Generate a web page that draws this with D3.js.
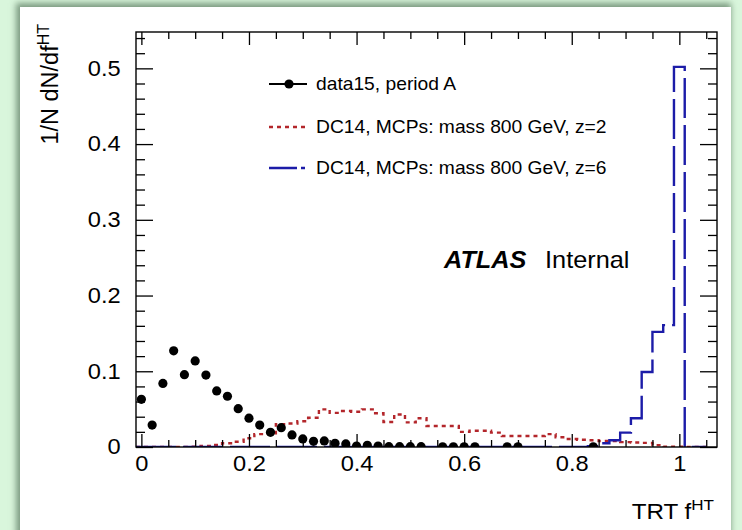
<!DOCTYPE html>
<html lang="en">
<head>
<meta charset="utf-8">
<script src="https://d3js.org/d3.v7.min.js"></script>
<style>
  body { margin: 0; background: #d9f6dc; overflow: hidden; font-family: "Liberation Sans", Arial, sans-serif; }
  #card { position: absolute; left: 20px; top: 7px; width: 711px; height: 540px; background: #fff;
          box-shadow: -2px -2px 6px 2px rgba(95,125,100,0.75); }
  #plot { position: absolute; left: 0; top: 0; }
</style>
</head>
<body>
<div id="card"></div>
<div id="plot"></div>
<script>
// bin centres (bin width 0.02)
const binCentres = [0.00,0.02,0.04,0.06,0.08,0.10,0.12,0.14,0.16,0.18,0.20,0.22,0.24,0.26,0.28,0.30,0.32,0.34,0.36,0.38,
  0.40,0.42,0.44,0.46,0.48,0.50,0.52,0.54,0.56,0.58,0.60,0.62,0.64,0.66,0.68,0.70,0.72,0.74,0.76,0.78,
  0.80,0.82,0.84,0.86,0.88,0.90,0.92,0.94,0.96,0.98,1.00,1.02,1.04];

// data15, period A (null = empty bin)
const data15 = [0.063,0.029,0.084,0.127,0.0955,0.1136,0.095,0.074,0.067,0.0506,0.038,0.029,0.0194,0.0255,0.0159,0.0106,0.0075,0.008,0.0049,0.004,
  0.0013,0.0022,0.0013,0.0004,0.0004,0.0004,0.0004,null,0.0003,0.0003,0.0003,0.0003,null,null,0.0002,0.0002,null,null,null,null,
  null,null,0.0002,null,null,null,null,null,null,null,null,null,null];

// DC14 MCPs, mass 800 GeV, z=2
const mcpZ2 = [0,0,0,0,0.0002,0.0005,0.0013,0.0026,0.005,0.007,0.0115,0.017,0.018,0.030,0.031,0.034,0.0387,0.0497,0.045,0.0475,
  0.0466,0.0497,0.0445,0.033,0.043,0.0325,0.038,0.0277,0.0277,0.0277,0.020,0.0215,0.0215,0.019,0.0145,0.0145,0.0145,0.0145,0.017,0.0128,
  0.0105,0.0095,0.009,0.008,0.008,0.0065,0.006,0.0055,0.0025,0.0005,0.0005,0,0];

// DC14 MCPs, mass 800 GeV, z=6
const mcpZ6 = [0,0,0,0,0,0,0,0,0,0,0,0,0,0,0,0,0,0,0,0,
  0,0,0,0,0,0,0,0,0,0,0,0,0,0,0,0,0,0,0,0,
  0,0,0.001,0.005,0.009,0.019,0.038,0.099,0.152,0.161,0.502,0,0];

const xTicks = [0,0.2,0.4,0.6,0.8,1];
const xTickLabels = ["0","0.2","0.4","0.6","0.8","1"];
const yTicks = [0,0.1,0.2,0.3,0.4,0.5];
const yTickLabels = ["0","0.1","0.2","0.3","0.4","0.5"];
const legendLabels = ["data15, period A","DC14, MCPs: mass 800 GeV, z=2","DC14, MCPs: mass 800 GeV, z=6"];

const W = 742, H = 530;
const red = "#b3262b", blue = "#1c1ca8";
const stretch = "scale(1.1,1)";

const x = d3.scaleLinear().domain([-0.01, 1.07]).range([136, 717]);
const y = d3.scaleLinear().domain([0, 0.548]).range([447, 32]);
const halfBin = 0.01;

const svg = d3.select("#plot").append("svg").attr("width", W).attr("height", H);

svg.append("clipPath").attr("id", "frame")
  .append("rect").attr("x", 136).attr("y", 32).attr("width", 581).attr("height", 415);

// histograms as steps
function stepPoints(vals) {
  const pts = vals.map((v, i) => [binCentres[i] - halfBin, v]);
  pts.push([binCentres[binCentres.length - 1] + halfBin, vals[vals.length - 1]]);
  return pts;
}
const step = d3.line().x(d => x(d[0])).y(d => y(d[1])).curve(d3.curveStepAfter);

const plot = svg.append("g").attr("clip-path", "url(#frame)");
plot.append("path").attr("d", step(stepPoints(mcpZ2)))
  .attr("fill", "none").attr("stroke", red).attr("stroke-width", 2.4).attr("stroke-dasharray", "4,4");
plot.append("path").attr("d", step(stepPoints(mcpZ6)))
  .attr("fill", "none").attr("stroke", blue).attr("stroke-width", 2.4).attr("stroke-dasharray", "40,7");

plot.selectAll("circle.pt")
  .data(binCentres.map((c, i) => [c, data15[i]]).filter(d => d[1] !== null))
  .join("circle").attr("class", "pt")
  .attr("cx", d => x(d[0])).attr("cy", d => y(d[1])).attr("r", 4.6).attr("fill", "#000");

// axes (ticks inside the frame, ROOT style)
const xMinor = d3.range(0, 1.06, 0.05).filter(v => !xTicks.some(t => Math.abs(t - v) < 1e-6));
const yMinor = d3.range(0, 0.548, 0.02).filter(v => !yTicks.some(t => Math.abs(t - v) < 1e-6));

function styleAxis(g) {
  g.select(".domain").remove();
  g.selectAll("line").attr("stroke", "#000").attr("stroke-width", 1.3);
}

svg.append("g").attr("transform", "translate(0,447)")
  .call(d3.axisBottom(x).tickValues(xTicks).tickFormat((d, i) => xTickLabels[i]).tickSize(-13).tickPadding(9))
  .call(styleAxis)
  .call(g => g.selectAll("text").attr("font-size", 21.5).attr("font-family", "Liberation Sans, Arial").attr("fill", "#000").attr("transform", stretch));
svg.append("g").attr("transform", "translate(0,447)")
  .call(d3.axisBottom(x).tickValues(xMinor).tickFormat("").tickSize(-7)).call(styleAxis);
svg.append("g").attr("transform", "translate(0,32)")
  .call(d3.axisTop(x).tickValues(xTicks).tickFormat("").tickSize(-13)).call(styleAxis);
svg.append("g").attr("transform", "translate(0,32)")
  .call(d3.axisTop(x).tickValues(xMinor).tickFormat("").tickSize(-7)).call(styleAxis);

svg.append("g").attr("transform", "translate(136,0)")
  .call(d3.axisLeft(y).tickValues(yTicks).tickFormat((d, i) => yTickLabels[i]).tickSize(-17).tickPadding(14))
  .call(styleAxis)
  .call(g => g.selectAll("text").attr("font-size", 21.5).attr("font-family", "Liberation Sans, Arial").attr("fill", "#000").attr("transform", stretch));
svg.append("g").attr("transform", "translate(136,0)")
  .call(d3.axisLeft(y).tickValues(yMinor).tickFormat("").tickSize(-9)).call(styleAxis);
svg.append("g").attr("transform", "translate(717,0)")
  .call(d3.axisRight(y).tickValues(yTicks).tickFormat("").tickSize(-17)).call(styleAxis);
svg.append("g").attr("transform", "translate(717,0)")
  .call(d3.axisRight(y).tickValues(yMinor).tickFormat("").tickSize(-9)).call(styleAxis);

svg.append("rect").attr("x", 136).attr("y", 32).attr("width", 581).attr("height", 415)
  .attr("fill", "none").attr("stroke", "#000").attr("stroke-width", 1.4);

// axis titles
const xt = svg.append("text").attr("transform", "translate(714,519) " + stretch)
  .attr("text-anchor", "end").attr("font-size", 22).attr("fill", "#000");
xt.append("tspan").text("TRT f");
xt.append("tspan").attr("dy", -9).attr("font-size", 15.5).text("HT");

const yt = svg.append("text").attr("transform", "translate(58,24) rotate(-90)")
  .attr("text-anchor", "end").attr("font-size", 23.5).attr("fill", "#000");
yt.append("tspan").text("1/N dN/df");
yt.append("tspan").attr("dy", -9).attr("font-size", 16).text("HT");

// legend
const legY = [84, 127, 168];
const leg = svg.append("g");
leg.append("line").attr("x1", 269).attr("x2", 307).attr("y1", legY[0]).attr("y2", legY[0]).attr("stroke", "#000").attr("stroke-width", 2.2);
leg.append("circle").attr("cx", 289).attr("cy", legY[0]).attr("r", 4.6).attr("fill", "#000");
leg.append("line").attr("x1", 269).attr("x2", 307).attr("y1", legY[1]).attr("y2", legY[1])
  .attr("stroke", red).attr("stroke-width", 2.4).attr("stroke-dasharray", "4,4");
leg.append("line").attr("x1", 269).attr("x2", 307).attr("y1", legY[2]).attr("y2", legY[2])
  .attr("stroke", blue).attr("stroke-width", 2.4).attr("stroke-dasharray", "28,4,4,10");
leg.selectAll("text.leg").data(legendLabels).join("text").attr("class", "leg")
  .attr("transform", (d, i) => `translate(316,${legY[i] + 6}) ${stretch}`)
  .attr("font-size", 17.5).attr("fill", "#000").text(d => d);

// ATLAS label
const atl = svg.append("text").attr("transform", "translate(444,268) " + stretch).attr("font-size", 23).attr("fill", "#000");
atl.append("tspan").attr("font-weight", "bold").attr("font-style", "italic").text("ATLAS");
atl.append("tspan").attr("dx", 17).text("Internal");
</script>
</body>
</html>
